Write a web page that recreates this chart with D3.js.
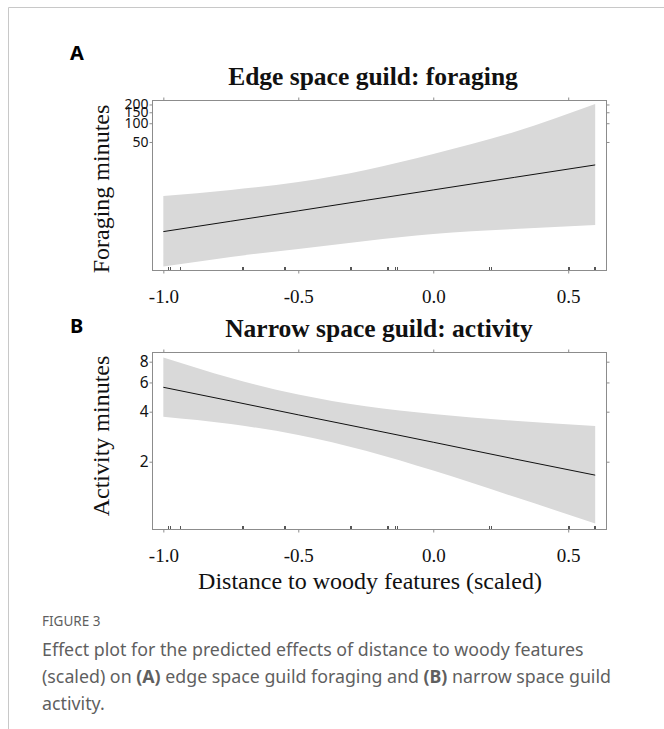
<!DOCTYPE html>
<html><head><meta charset="utf-8">
<script src="https://cdn.jsdelivr.net/npm/d3@7"></script>
<style>body{margin:0;background:#fff}svg{display:block}</style>
</head><body><svg id="c" width="664" height="729"></svg>
<script>
// ---- data ----
const xTicks = [-1.0, -0.5, 0.0, 0.5];
const xTickLabels = ["-1.0", "-0.5", "0.0", "0.5"];
const rugX = [-0.981, -0.975, -0.938, -0.710, -0.706, -0.553, -0.549, -0.309, -0.305,
              -0.173, -0.167, -0.140, -0.135, 0.208, 0.213, 0.498, 0.503, 0.596, 0.600];
const bandX = [-1.0, -0.75, -0.5, -0.25, 0.0, 0.3, 0.6];
const foragingFit   = [1.82, 2.67, 3.92, 5.78, 8.49, 13.5, 21.4];
const foragingLower = [0.50, 0.713, 0.959, 1.29, 1.67, 2.01, 2.33];
const foragingUpper = [6.8, 8.49, 11.4, 17.8, 32.1, 72.4, 204];
const foragingTicks = [50, 100, 150, 200];
const activityFit   = [5.61, 4.64, 3.83, 3.17, 2.62, 2.08, 1.66];
const activityLower = [3.73, 3.37, 2.90, 2.33, 1.77, 1.23, 0.85];
const activityUpper = [8.47, 6.38, 5.07, 4.31, 3.87, 3.53, 3.28];
const activityTicks = [2, 4, 6, 8];

const svg = d3.select("#c");
const serif = "'Liberation Serif','Times New Roman',serif";
const sans = "'Noto Sans','Open Sans',sans-serif";
const axisCol = "#8c8c8c";

// page frame
svg.append("line").attr("x1", 8.5).attr("x2", 664).attr("y1", 7.5).attr("y2", 7.5).attr("stroke", "#c8c8c8");
svg.append("line").attr("x1", 8.5).attr("x2", 8.5).attr("y1", 7.5).attr("y2", 729).attr("stroke", "#c8c8c8");

const x = d3.scaleLinear().domain([-1.042, 0.640]).range([152, 606]);

function panel(cfg) {
  const {y, top, bottom, fit, lower, upper, ticks, title, titleX, ylab, letter, letterY, ylabY, labY, tickFont} = cfg;
  const g = svg.append("g");
  const band = bandX.map((v, i) => ({x: v, lo: lower[i], hi: upper[i], f: fit[i]}));
  g.append("path").datum(band)
    .attr("fill", "#d9d9d9")
    .attr("d", d3.area().x(d => x(d.x)).y0(d => y(d.lo)).y1(d => y(d.hi)).curve(d3.curveMonotoneX));
  g.append("path").datum(band)
    .attr("fill", "none").attr("stroke", "#111").attr("stroke-width", 1)
    .attr("d", d3.line().x(d => x(d.x)).y(d => y(d.f)));
  // rug
  g.selectAll(".rug").data(rugX).enter().append("line")
    .attr("x1", d => Math.round(x(d)) + 0.5).attr("x2", d => Math.round(x(d)) + 0.5)
    .attr("y1", bottom).attr("y2", bottom - 3)
    .attr("stroke", "#555").attr("stroke-width", 1);
  // box
  g.append("rect").attr("x", 152.5).attr("y", top + 0.5).attr("width", 454).attr("height", bottom - top)
    .attr("fill", "none").attr("stroke", axisCol).attr("stroke-width", 1);
  // axes
  const ax = (axis, tr) => {
    const a = g.append("g").attr("transform", tr).call(axis);
    a.select(".domain").remove();
    a.selectAll("line").attr("stroke", axisCol);
    return a;
  };
  const bx = ax(d3.axisBottom(x).tickValues(xTicks).tickSize(3).tickFormat((d, i) => xTickLabels[i]),
                `translate(0,${bottom + 0.5})`);
  bx.selectAll("text").attr("y", labY - bottom).attr("dy", 0)
    .attr("font-family", serif).attr("font-size", 19).attr("fill", "#111");
  ax(d3.axisTop(x).tickValues(xTicks).tickSize(3).tickFormat(""), `translate(0,${top + 0.5})`);
  const ly = ax(d3.axisLeft(y).tickValues(ticks).tickSize(3).tickFormat(d3.format("d")), `translate(152.5,0)`);
  ly.selectAll("text").attr("x", -4).attr("font-family", sans).attr("font-size", tickFont).attr("fill", "#111");
  ax(d3.axisRight(y).tickValues(ticks).tickSize(3).tickFormat(""), `translate(606.5,0)`);
  // titles
  svg.append("text").attr("x", titleX).attr("y", top - 15.5).attr("text-anchor", "middle")
    .attr("font-family", serif).attr("font-weight", "bold").attr("font-size", 25.5).attr("fill", "#111").text(title);
  svg.append("text").attr("transform", `translate(109,${ylabY}) rotate(-90)`).attr("text-anchor", "middle")
    .attr("font-family", serif).attr("font-size", 24).attr("fill", "#111").text(ylab);
  svg.append("text").attr("x", 70).attr("y", letterY)
    .attr("font-family", sans).attr("font-weight", "bold").attr("font-size", 20).attr("fill", "#000").text(letter);
}

panel({
  y: d3.scaleLog().domain([0.44, 236]).range([270, 100]),
  top: 100, bottom: 270, fit: foragingFit, lower: foragingLower, upper: foragingUpper,
  ticks: foragingTicks, title: "Edge space guild: foraging", titleX: 373, ylab: "Foraging minutes",
  letter: "A", letterY: 60, ylabY: 189, labY: 302, tickFont: 14
});
panel({
  y: d3.scaleLog().domain([0.787, 9.15]).range([529, 352]),
  top: 352, bottom: 529, fit: activityFit, lower: activityLower, upper: activityUpper,
  ticks: activityTicks, title: "Narrow space guild: activity", titleX: 379, ylab: "Activity minutes",
  letter: "B", letterY: 333, ylabY: 436, labY: 561, tickFont: 15.5
});

svg.append("text").attr("x", 370).attr("y", 589).attr("text-anchor", "middle")
  .attr("font-family", serif).attr("font-size", 24).attr("fill", "#111").text("Distance to woody features (scaled)");

// caption
const capCol = "#5f5f5f";
svg.append("text").attr("x", 42).attr("y", 626).attr("font-family", sans).attr("font-size", 13.5)
  .attr("fill", capCol).text("FIGURE 3");
const cap = [
  [["Effect plot for the predicted effects of distance to woody features", false]],
  [["(scaled) on ", false], ["(A)", true], [" edge space guild foraging and ", false], ["(B)", true], [" narrow space guild", false]],
  [["activity.", false]]
];
cap.forEach((line, i) => {
  const t = svg.append("text").attr("x", 42).attr("y", 656 + i * 27)
    .attr("font-family", sans).attr("font-size", 17.8).attr("fill", capCol);
  line.forEach(([s, b]) => t.append("tspan").attr("font-weight", b ? 700 : 400).text(s));
});
</script></body></html>
